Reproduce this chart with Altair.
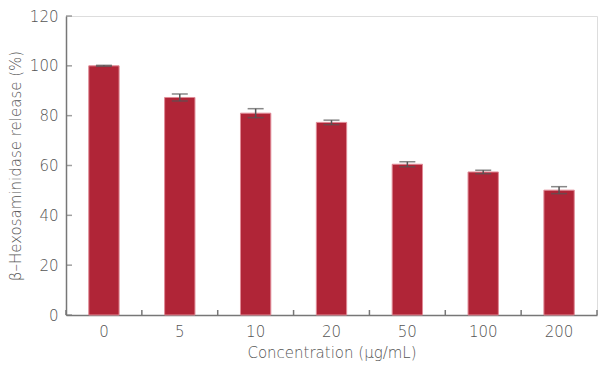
import altair as alt
import pandas as pd

# Concentration groups and beta-hexosaminidase release (% of control, mean and error)
concentrations = ["0", "5", "10", "20", "50", "100", "200"]
release = [100.0, 87.3, 81.0, 77.3, 60.5, 57.4, 50.1]
error = [0.2, 1.4, 1.8, 0.9, 1.0, 0.7, 1.4]
y_ticks = [0, 20, 40, 60, 80, 100, 120]

df = pd.DataFrame({"conc": concentrations, "release": release, "err": error})
df["lo"] = df["release"] - df["err"]
df["hi"] = df["release"] + df["err"]

FONT = "DejaVu Sans"
WEIGHT = 200
TEXT = "#555555"
AXIS = "#777777"

x_scale = alt.Scale(domain=concentrations, paddingInner=0.6, paddingOuter=0.3)
y_scale = alt.Scale(domain=[0, 120], nice=False)

x_enc = alt.X(
    "conc:N", scale=x_scale, sort=concentrations,
    axis=alt.Axis(
        title="Concentration (\u03bcg/mL)", labelAngle=0, ticks=False,
        domainColor=AXIS, domainWidth=1.5, labelPadding=9, titlePadding=6,
        labelFont=FONT, titleFont=FONT, labelFontSize=15, titleFontSize=15,
        labelColor=TEXT, titleColor=TEXT, labelFontWeight=WEIGHT, titleFontWeight=WEIGHT,
    ),
)
y_enc = alt.Y(
    "release:Q", scale=y_scale,
    axis=alt.Axis(
        title="\u03b2\u2013Hexosaminidase release (%)", values=y_ticks, ticks=False,
        grid=False, domainColor=AXIS, domainWidth=1.5, labelPadding=8, titlePadding=6,
        labelFont=FONT, titleFont=FONT, labelFontSize=15, titleFontSize=15,
        labelColor=TEXT, titleColor=TEXT, labelFontWeight=WEIGHT, titleFontWeight=WEIGHT,
    ),
)

bars = alt.Chart(df).mark_bar(
    color="#b02537", stroke="#e08a96", strokeWidth=1
).encode(x=x_enc, y=y_enc)

whisker = alt.Chart(df).mark_rule(color="#555555", strokeWidth=1.5).encode(
    x=alt.X("conc:N", scale=x_scale, sort=concentrations),
    y="lo:Q", y2="hi:Q",
)
cap_lo = alt.Chart(df).mark_tick(color="#555555", size=16, thickness=1.5, orient="horizontal").encode(
    x=alt.X("conc:N", scale=x_scale, sort=concentrations), y=alt.Y("lo:Q", scale=y_scale),
)
cap_hi = alt.Chart(df).mark_tick(color="#555555", size=16, thickness=1.5, orient="horizontal").encode(
    x=alt.X("conc:N", scale=x_scale, sort=concentrations), y=alt.Y("hi:Q", scale=y_scale),
)

data_layer = alt.layer(bars, whisker, cap_lo, cap_hi)

# inward-facing ticks on the value axis
ytick_df = pd.DataFrame({"v": y_ticks})
yticks = alt.Chart(ytick_df).mark_tick(color=AXIS, size=6, thickness=1.5, orient="horizontal").encode(
    y=alt.Y("v:Q", scale=y_scale), x=alt.value(3),
)

# inward-facing ticks at the boundaries between category slots
slot_scale = alt.Scale(domain=concentrations, paddingInner=0, paddingOuter=0)
cat_df = pd.DataFrame({"slot": concentrations})
xticks = alt.Chart(cat_df).mark_rule(color=AXIS, strokeWidth=1.5).encode(
    x=alt.X("slot:N", scale=slot_scale, sort=concentrations, bandPosition=0, axis=None),
    y=alt.value(294), y2=alt.value(299),
)
last_df = pd.DataFrame({"slot": [concentrations[-1]]})
xtick_end = alt.Chart(last_df).mark_rule(color=AXIS, strokeWidth=1.5).encode(
    x=alt.X("slot:N", scale=slot_scale, sort=concentrations, bandPosition=1, axis=None),
    y=alt.value(294), y2=alt.value(299),
)
tick_layer = alt.layer(xticks, xtick_end)

chart = alt.layer(data_layer, yticks, tick_layer).resolve_scale(x="independent").properties(
    width=531, height=299,
    autosize=alt.AutoSizeParams(type="none"),
    padding={"left": 66, "top": 16, "right": 1, "bottom": 53},
).configure_view(stroke=None).configure(background="white")

chart.save("out.html", embed_options={"renderer": "svg", "actions": False})
